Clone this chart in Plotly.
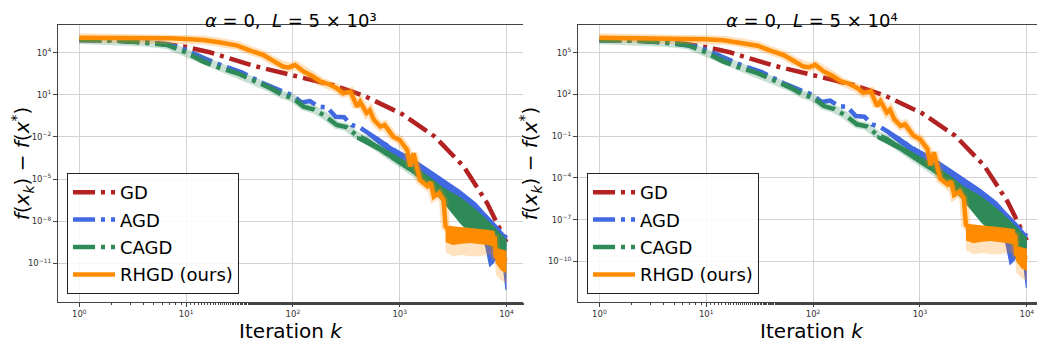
import numpy as np
import plotly.graph_objects as go

# ---------------- data (log10 of k and log10 of f(x_k)-f(x*)) ----------------
# Left panel: alpha=0, L=5e3
GD_L_lk = [0, 0.3, 0.6, 0.8, 1.0, 1.22, 1.63, 1.99, 2.38, 2.66, 2.8, 3.02, 3.33, 3.6, 3.82, 3.91, 4.0]
GD_L_lf = [4.9, 4.88, 4.75, 4.62, 4.4, 4.03, 3.07, 2.41, 1.68, 0.95, 0.42, -0.36, -1.98, -4.11, -6.72, -8.1, -9.5]

AGD_L_lk = [0, 0.3, 0.6, 0.82, 0.91, 1.0, 1.15, 1.33, 1.52, 1.72, 1.91, 2.0, 2.08, 2.16, 2.24, 2.32, 2.4, 2.48,
            2.55, 2.63, 2.71, 2.8, 2.94, 3.1, 3.26, 3.41, 3.57, 3.72, 3.88, 4.0]
AGD_L_lf = [4.9, 4.88, 4.75, 4.58, 4.43, 4.2, 3.67, 3.1, 2.6, 1.82, 1.22, 0.95, 0.45, 0.55, 0.16, 0.1, -0.56, -0.6,
            -1.15, -1.35, -1.74, -2.2, -2.9, -3.7, -4.5, -5.3, -6.1, -7.0, -8.3, -9.2]
AGD_L_band_lk = [2.7, 2.8, 2.94, 3.1, 3.26, 3.41, 3.57, 3.72, 3.8, 3.84, 3.88, 3.93, 3.97, 3.99, 4.0]
AGD_L_band_hi = [-1.7, -2.0, -2.75, -3.4, -4.2, -4.95, -5.8, -6.7, -7.4, -7.7, -8.1, -8.5, -8.8, -9.0, -9.1]
AGD_L_band_lo = [-1.9, -2.5, -3.3, -4.1, -5.0, -6.0, -7.1, -8.3, -9.8, -11.3, -11.0, -10.5, -11.5, -12.9, -12.9]

CAGD_L_lk = [0, 0.3, 0.6, 0.82, 1.0, 1.16, 1.3, 1.48, 1.62, 1.79, 1.9, 2.0, 2.1, 2.2, 2.3, 2.41, 2.5, 2.6, 2.69,
             2.8, 2.94, 3.1, 3.26, 3.41, 3.57, 3.72, 3.85, 3.95]
CAGD_L_lf = [4.9, 4.88, 4.72, 4.55, 4.0, 3.36, 2.95, 2.53, 2.05, 1.47, 1.0, 0.75, 0.16, -0.05, -0.5, -1.15, -1.3,
             -1.9, -2.21, -2.8, -3.5, -4.3, -5.1, -6.0, -7.0, -7.9, -8.7, -9.4]
CAGD_L_band_lk = [2.6, 2.8, 2.94, 3.1, 3.26, 3.41, 3.57, 3.72, 3.85, 3.95, 4.0]
CAGD_L_band_hi = [-1.9, -2.55, -3.2, -3.9, -4.7, -5.6, -6.3, -7.2, -8.1, -8.9, -9.3]
CAGD_L_band_lo = [-2.2, -3.0, -3.7, -4.5, -5.4, -6.7, -8.2, -9.3, -9.8, -10.1, -10.2]

RH_L_lk = [0, 0.5, 0.85, 1.0, 1.16, 1.32, 1.48, 1.6, 1.72, 1.82, 1.91, 1.96, 2.02, 2.1, 2.18, 2.26, 2.34, 2.41,
           2.47, 2.54, 2.6, 2.63, 2.69, 2.72, 2.76, 2.82, 2.86, 2.94, 3.0, 3.07, 3.1, 3.13, 3.19, 3.26, 3.29, 3.32,
           3.37, 3.41, 3.43, 3.5, 3.6, 3.7, 3.8, 3.89, 3.9, 3.95, 4.0]
RH_L_lf = [5.07, 5.06, 5.03, 4.97, 4.9, 4.72, 4.5, 4.15, 3.84, 3.4, 3.0, 2.95, 3.12, 2.65, 2.35, 1.94, 1.75, 1.47,
           1.11, 1.22, 0.16, 0.5, -0.3, -0.1, -0.8, -1.27, -1.15, -1.98, -2.21, -2.93, -4.1, -3.17, -5.06, -5.5,
           -5.25, -6.25, -6.0, -6.49, -8.38, -8.9, -9.0, -8.9, -9.1, -9.2, -10.5, -10.7, -10.9]
RH_L_band_lk = [3.43, 3.5, 3.58, 3.66, 3.74, 3.82, 3.89, 3.9, 3.95, 4.0]
RH_L_band_hi = [-8.3, -8.35, -8.4, -8.45, -8.5, -8.6, -8.7, -9.9, -10.0, -10.1]
RH_L_band_lo = [-9.5, -9.7, -9.6, -9.55, -9.6, -9.7, -9.8, -11.0, -11.5, -11.7]
RH_L_light_lo = [-10.2, -10.5, -10.4, -10.5, -10.5, -10.4, -10.4, -11.8, -12.2, -12.4]

# Right panel: alpha=0, L=5e4
GD_R_lk = [0, 0.3, 0.6, 0.8, 1.0, 1.22, 1.63, 1.99, 2.38, 2.66, 2.8, 3.02, 3.33, 3.6, 3.82, 3.91, 4.0]
GD_R_lf = [5.9, 5.88, 5.75, 5.62, 5.4, 5.03, 4.07, 3.41, 2.68, 1.95, 1.42, 0.64, -0.98, -3.11, -5.72, -7.1, -8.5]

AGD_R_lk = [0, 0.3, 0.6, 0.82, 0.91, 1.0, 1.15, 1.33, 1.52, 1.72, 1.91, 2.0, 2.08, 2.16, 2.24, 2.32, 2.4, 2.48,
            2.55, 2.63, 2.71, 2.8, 2.94, 3.1, 3.26, 3.41, 3.57, 3.72, 3.88, 4.0]
AGD_R_lf = [5.9, 5.88, 5.75, 5.58, 5.43, 5.2, 4.67, 4.1, 3.6, 2.82, 2.22, 1.95, 1.45, 1.55, 1.16, 1.1, 0.44, 0.4,
            -0.15, -0.35, -0.74, -1.2, -1.9, -2.7, -3.5, -4.3, -5.1, -6.0, -7.3, -8.2]
AGD_R_band_lk = [2.7, 2.8, 2.94, 3.1, 3.26, 3.41, 3.57, 3.72, 3.8, 3.84, 3.88, 3.93, 3.97, 3.99, 4.0]
AGD_R_band_hi = [-0.7, -1.0, -1.75, -2.4, -3.2, -3.95, -4.8, -5.7, -6.4, -6.7, -7.1, -7.5, -7.8, -8.0, -8.1]
AGD_R_band_lo = [-0.9, -1.5, -2.3, -3.1, -4.0, -5.0, -6.1, -7.3, -8.8, -10.3, -10.0, -9.5, -10.5, -11.9, -11.9]

CAGD_R_lk = [0, 0.3, 0.6, 0.82, 1.0, 1.16, 1.3, 1.48, 1.62, 1.79, 1.9, 2.0, 2.1, 2.2, 2.3, 2.41, 2.5, 2.6, 2.69,
             2.8, 2.94, 3.1, 3.26, 3.41, 3.57, 3.72, 3.85, 3.95]
CAGD_R_lf = [5.9, 5.88, 5.72, 5.55, 5.0, 4.36, 3.95, 3.53, 3.05, 2.47, 2.0, 1.75, 1.16, 0.95, 0.5, -0.15, -0.3,
             -0.9, -1.21, -1.8, -2.5, -3.3, -4.1, -5.0, -6.0, -6.9, -7.7, -8.4]
CAGD_R_band_lk = [2.6, 2.8, 2.94, 3.1, 3.26, 3.41, 3.57, 3.72, 3.85, 3.95, 4.0]
CAGD_R_band_hi = [-0.9, -1.55, -2.2, -2.9, -3.7, -4.6, -5.3, -6.2, -7.1, -7.9, -8.3]
CAGD_R_band_lo = [-1.2, -2.0, -2.7, -3.5, -4.4, -5.7, -7.2, -8.3, -8.8, -9.1, -9.2]

RH_R_lk = [0, 0.5, 0.85, 1.0, 1.16, 1.32, 1.48, 1.6, 1.72, 1.82, 1.91, 1.96, 2.02, 2.1, 2.18, 2.26, 2.34, 2.41,
           2.47, 2.54, 2.6, 2.63, 2.69, 2.72, 2.76, 2.82, 2.86, 2.94, 3.0, 3.07, 3.1, 3.13, 3.19, 3.26, 3.29, 3.32,
           3.37, 3.41, 3.43, 3.5, 3.6, 3.7, 3.8, 3.89, 3.9, 3.95, 4.0]
RH_R_lf = [6.07, 6.06, 6.03, 5.97, 5.9, 5.72, 5.5, 5.15, 4.84, 4.4, 4.0, 3.95, 4.12, 3.65, 3.35, 2.94, 2.75, 2.47,
           2.11, 2.22, 1.16, 1.5, 0.7, 0.9, 0.2, -0.27, -0.15, -0.98, -1.21, -1.93, -3.1, -2.17, -4.06, -4.5,
           -4.25, -5.25, -5.0, -5.49, -7.38, -7.9, -8.0, -7.9, -8.1, -8.2, -9.5, -9.7, -9.9]
RH_R_band_lk = [3.43, 3.5, 3.58, 3.66, 3.74, 3.82, 3.89, 3.9, 3.95, 4.0]
RH_R_band_hi = [-7.3, -7.35, -7.4, -7.45, -7.5, -7.6, -7.7, -8.9, -9.0, -9.1]
RH_R_band_lo = [-8.5, -8.7, -8.6, -8.55, -8.6, -8.7, -8.8, -10.0, -10.5, -10.7]
RH_R_light_lo = [-9.2, -9.5, -9.4, -9.5, -9.5, -9.4, -9.4, -10.8, -11.2, -11.4]

# axis ticks
X_TICKS = [1, 10, 100, 1000, 10000]
X_TEXT = ["10<sup>0</sup>", "10<sup>1</sup>", "10<sup>2</sup>", "10<sup>3</sup>", "10<sup>4</sup>"]
Y_L_EXP = [4, 1, -2, -5, -8, -11]
Y_R_EXP = [5, 2, -1, -4, -7, -10]
TITLES = ["<i>α</i> = 0,  <i>L</i> = 5 × 10³", "<i>α</i> = 0,  <i>L</i> = 5 × 10⁴"]
NAMES = ["GD", "AGD", "CAGD", "RHGD (ours)"]

# ---------------- styling ----------------
C_GD, C_AGD, C_CAGD, C_RH = "#b22222", "#4169e1", "#2e8b57", "#ff8c00"
DASHDOT = "22px,6px,4px,6px"
LW = 4.5
FONT = "DejaVu Sans"

fig = go.Figure()


def P(a):
    return 10 ** np.asarray(a, dtype=float)


def add_panel(xa, ya, leg, gd, agd, agd_b, cagd, cagd_b, rh, rh_b, rh_light_lo):
    common = dict(xaxis=xa, yaxis=ya, legend=leg)
    # GD
    fig.add_trace(go.Scatter(x=P(gd[0]), y=P(gd[1]), mode="lines", name=NAMES[0], legendgroup="a" + leg,
                             line=dict(color=C_GD, width=LW, dash=DASHDOT), **common))
    # AGD noisy band + line
    bx = list(agd_b[0]) + list(agd_b[0])[::-1]
    by = list(agd_b[1]) + list(agd_b[2])[::-1]
    fig.add_trace(go.Scatter(x=P(bx), y=P(by), fill="toself", fillcolor=C_AGD, mode="lines",
                             line=dict(width=0, color=C_AGD), showlegend=False, hoverinfo="skip", **common))
    fig.add_trace(go.Scatter(x=P(agd[0]), y=P(agd[1]), mode="lines", name=NAMES[1], legendgroup="b" + leg,
                             line=dict(color=C_AGD, width=LW, dash=DASHDOT), **common))
    # CAGD halo + band + line
    fig.add_trace(go.Scatter(x=P(cagd[0]), y=P(cagd[1]), mode="lines", showlegend=False, hoverinfo="skip",
                             opacity=0.25, line=dict(color=C_CAGD, width=8), **common))
    bx = list(cagd_b[0]) + list(cagd_b[0])[::-1]
    by = list(cagd_b[1]) + list(cagd_b[2])[::-1]
    fig.add_trace(go.Scatter(x=P(bx), y=P(by), fill="toself", fillcolor=C_CAGD, mode="lines",
                             line=dict(width=0, color=C_CAGD), showlegend=False, hoverinfo="skip", **common))
    fig.add_trace(go.Scatter(x=P(cagd[0]), y=P(cagd[1]), mode="lines", name=NAMES[2], legendgroup="c" + leg,
                             line=dict(color=C_CAGD, width=LW, dash=DASHDOT), **common))
    # RHGD halo + light band + band + line
    fig.add_trace(go.Scatter(x=P(rh[0]), y=P(rh[1]), mode="lines", showlegend=False, hoverinfo="skip",
                             opacity=0.25, line=dict(color=C_RH, width=9), **common))
    bx = list(rh_b[0]) + list(rh_b[0])[::-1]
    by = list(rh_b[1]) + list(rh_light_lo)[::-1]
    fig.add_trace(go.Scatter(x=P(bx), y=P(by), fill="toself", fillcolor="rgba(255,140,0,0.25)", mode="lines",
                             line=dict(width=0, color=C_RH), showlegend=False, hoverinfo="skip", **common))
    by = list(rh_b[1]) + list(rh_b[2])[::-1]
    fig.add_trace(go.Scatter(x=P(bx), y=P(by), fill="toself", fillcolor=C_RH, mode="lines",
                             line=dict(width=0, color=C_RH), showlegend=False, hoverinfo="skip", **common))
    fig.add_trace(go.Scatter(x=P(rh[0]), y=P(rh[1]), mode="lines", name=NAMES[3], legendgroup="d" + leg,
                             line=dict(color=C_RH, width=LW), **common))


add_panel("x", "y", "legend", (GD_L_lk, GD_L_lf), (AGD_L_lk, AGD_L_lf),
          (AGD_L_band_lk, AGD_L_band_hi, AGD_L_band_lo), (CAGD_L_lk, CAGD_L_lf),
          (CAGD_L_band_lk, CAGD_L_band_hi, CAGD_L_band_lo), (RH_L_lk, RH_L_lf),
          (RH_L_band_lk, RH_L_band_hi, RH_L_band_lo), RH_L_light_lo)
add_panel("x2", "y2", "legend2", (GD_R_lk, GD_R_lf), (AGD_R_lk, AGD_R_lf),
          (AGD_R_band_lk, AGD_R_band_hi, AGD_R_band_lo), (CAGD_R_lk, CAGD_R_lf),
          (CAGD_R_band_lk, CAGD_R_band_hi, CAGD_R_band_lo), (RH_R_lk, RH_R_lf),
          (RH_R_band_lk, RH_R_band_hi, RH_R_band_lo), RH_R_light_lo)

# page body has an 8px margin: figure pixel = screen pixel - 8
OFF = 8
W, H = 1045 - OFF, 350 - OFF


def px(x):
    return (x - OFF) / W


def py(y):
    return 1 - (y - OFF) / H


tickfont = dict(family=FONT, size=8.5, color="#333")
titlefont = dict(family=FONT, size=20, color="black")


def xaxis(domain, rng):
    return dict(type="log", domain=domain, range=rng, tickvals=X_TICKS, ticktext=X_TEXT, tickfont=tickfont,
                showgrid=True, gridcolor="#d3d3d3", gridwidth=1, showline=True, linecolor="#444", linewidth=1,
                mirror=True, ticks="outside", ticklen=4, tickcolor="#444", zeroline=False,
                minor=dict(ticks="outside", ticklen=2, tickcolor="#444", showgrid=False),
                title=dict(text="Iteration <i>k</i>", font=titlefont, standoff=4), automargin=False)


def yaxis(domain, rng, exps, anchor):
    return dict(type="log", domain=domain, range=rng, anchor=anchor, tickvals=[10.0 ** e for e in exps],
                ticktext=["10<sup>%s</sup>" % (str(e).replace("-", "−")) for e in exps], tickfont=tickfont,
                showgrid=True, gridcolor="#d3d3d3", gridwidth=1, showline=True, linecolor="#444", linewidth=1,
                ticks="outside", ticklen=4, tickcolor="#444", zeroline=False,
                title=dict(text="<i>f</i>(<i>x<sub>k</sub></i>) − <i>f</i>(<i>x</i><sup>*</sup>)",
                           font=titlefont, standoff=4), automargin=False)


yd = [py(302), py(25)]
legstyle = dict(font=dict(family=FONT, size=18, color="black"), bgcolor="rgba(255,255,255,0.85)",
                bordercolor="#222", borderwidth=1, xanchor="left", yanchor="top", tracegroupgap=1, itemwidth=42)

fig.update_layout(
    width=W, height=H, margin=dict(l=0, r=0, t=0, b=0), paper_bgcolor="white", plot_bgcolor="white",
    font=dict(family=FONT),
    xaxis=xaxis([px(58), px(523)], [-0.2, 4.155]),
    xaxis2=xaxis([px(578), 1.0], [-0.2, 4.17]),
    yaxis=yaxis(yd, [-13.75, 5.97], Y_L_EXP, "x"),
    yaxis2=yaxis(yd, [-12.93, 6.99], Y_R_EXP, "x2"),
    legend=dict(x=px(67), y=py(173), **legstyle),
    legend2=dict(x=px(587), y=py(173), **legstyle),
    annotations=[
        dict(text=TITLES[0], x=px((58 + 523) / 2), y=py(20), xref="paper", yref="paper", showarrow=False,
             font=dict(family=FONT, size=18, color="black"), xanchor="center", yanchor="middle"),
        dict(text=TITLES[1], x=px((578 + 1046) / 2), y=py(20), xref="paper", yref="paper", showarrow=False,
             font=dict(family=FONT, size=18, color="black"), xanchor="center", yanchor="middle"),
    ],
)

fig.write_html("out.html")
